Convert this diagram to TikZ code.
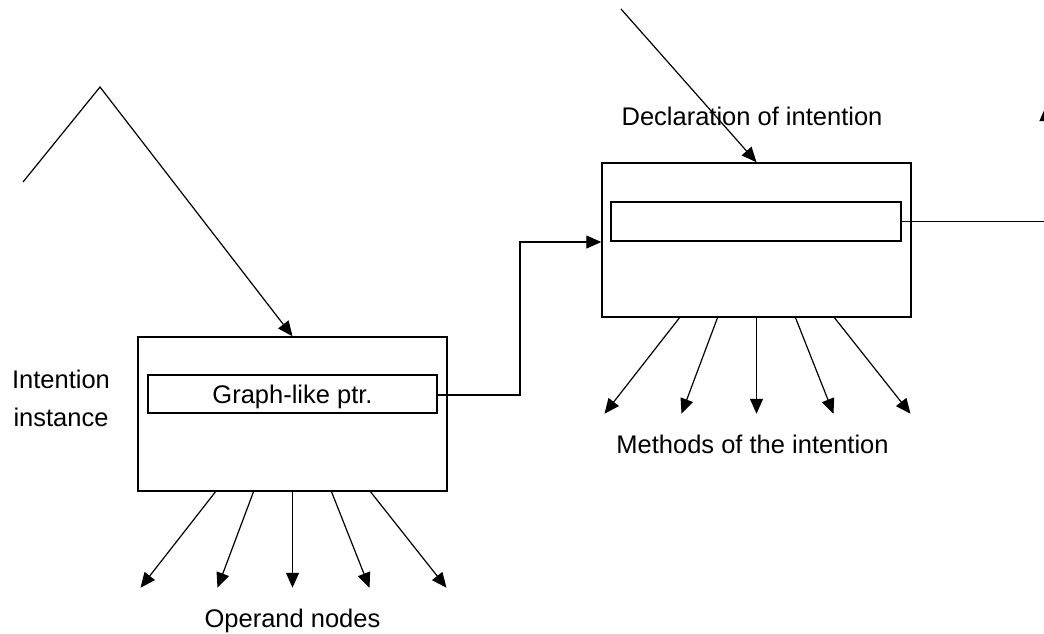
\documentclass[tikz,border=0pt]{standalone}
\usepackage{fontspec}
\setmainfont{Liberation Sans}
\usetikzlibrary{arrows.meta,calc}

\begin{document}
\begin{tikzpicture}[x=1pt,y=-1pt,
  box/.style={draw,line width=1.5pt,minimum width=309pt,minimum height=154pt,inner sep=0pt},
  slot/.style={draw,line width=1.5pt,minimum width=289pt,minimum height=38pt,inner sep=0pt,
               text height=18.3pt,text depth=0pt,font=\fontsize{25.5pt}{30pt}\selectfont},
  link/.style={line width=1.2pt},
  arr/.style={line width=1.2pt,-{Triangle[length=15pt,width=13pt]}},
  lbl/.style={font=\fontsize{25.5pt}{38pt}\selectfont,inner sep=0pt}]

\path[use as bounding box] (0,0) rectangle (1044,633);

% intention instance
\node[box] (box1) at (292.5,414) {};
\node[slot] (in1) at (292.5,394) {Graph-like ptr.};
\node[lbl,align=center] (inst) at (61,398) {Intention\\instance};

% declaration of intention
\node[box] (box2) at (756.5,240) {};
\node[slot,minimum width=290pt,minimum height=39pt] (in2) at (756,221.5) {};
\node[lbl,anchor=base] (decl) at (752,125) {Declaration of intention};

% incoming arrows from above
\coordinate (z1) at (23,182);
\coordinate (z2) at (100,87);
\draw[arr] (z1) -- (z2) -- (box1.north);
\coordinate (d0) at (621,9);
\draw[arr] (d0) -- (box2.north);

% pointer from the instance to its declaration
\coordinate (bend) at (520,395);
\draw[arr] ([yshift=-1pt]in1.east) -- (bend) |- ([yshift=-2pt]box2.west);

% pointer leaving the declaration to the right
\begin{scope}
  \clip (0,0) rectangle (1044,633);
  \coordinate (r1) at (1046,221.5);
  \coordinate (r2) at (1046,106);
  \draw[arr] (in2.east) -- (r1) -- (r2);
\end{scope}

% operand nodes
\foreach \s/\e [count=\i] in {-77/-152,-39/-75,0/0,39/77,78/154}{
  \coordinate (o\i) at ($(box1.south)+(\e,96)$);
  \draw[arr] ($(box1.south)+(\s,0)$) -- (o\i);
}
\node[lbl,anchor=base] (ops) at (292.5,627) {Operand nodes};

% methods of the intention
\foreach \s/\e [count=\i] in {-77/-152,-39/-75,0/0,39/77,78/154}{
  \coordinate (m\i) at ($(box2.south)+(\e,96)$);
  \draw[arr] ($(box2.south)+(\s,0)$) -- (m\i);
}
\node[lbl,anchor=base] (meth) at (752.5,453) {Methods of the intention};

\end{tikzpicture}
\end{document}
